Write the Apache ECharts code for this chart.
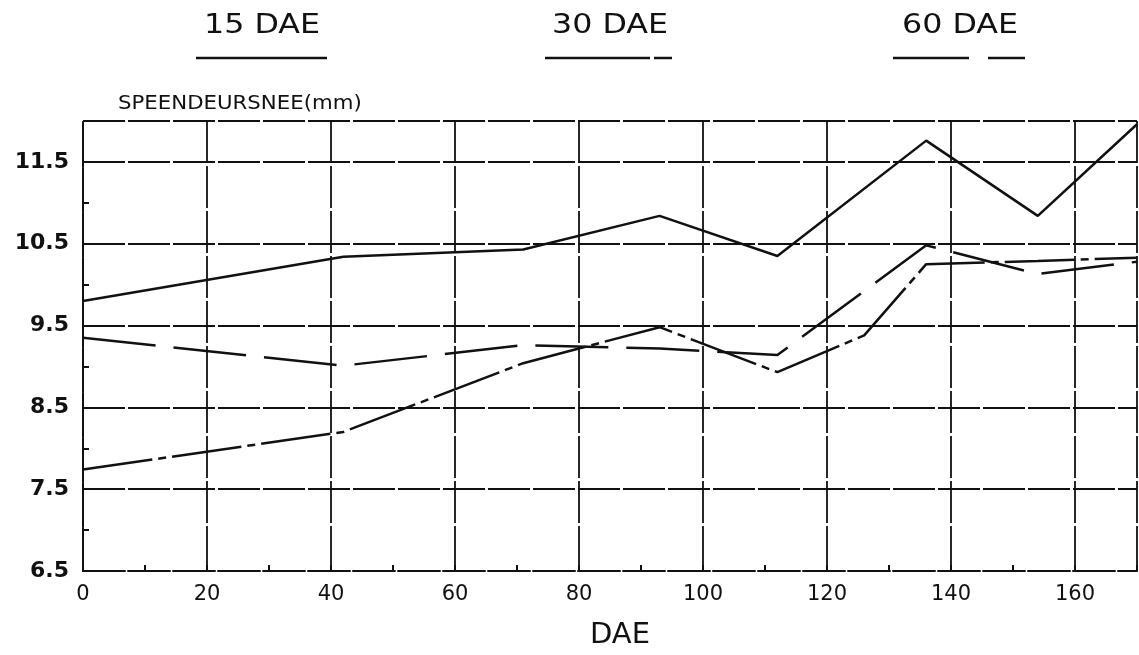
<!DOCTYPE html>
<html>
<head>
<meta charset="utf-8">
<script src="https://cdn.jsdelivr.net/npm/echarts@6/dist/echarts.min.js"></script>
<style>
html,body{margin:0;padding:0;background:#fff;}
#chart{width:1139px;height:655px;}
</style>
</head>
<body>
<div id="chart"></div>
<script>
// ---- data ----
var xTickLabels = ['0','20','40','60','80','100','120','140','160'];
var yTickLabels = ['6.5','7.5','8.5','9.5','10.5','11.5'];

var seriesNames = ['15 DAE', '30 DAE', '60 DAE'];

var days15  = [0, 42, 71, 93, 112, 136, 154, 170];
var speen15 = [9.80, 10.34, 10.43, 10.84, 10.35, 11.76, 10.84, 11.96];

var days30  = [0, 42, 71, 93, 112, 126, 136, 154, 170];
var speen30 = [7.74, 8.20, 9.04, 9.48, 8.93, 9.38, 10.25, 10.29, 10.33];

var days60  = [0, 42, 71, 93, 112, 136, 154, 170];
var speen60 = [9.35, 9.01, 9.26, 9.22, 9.14, 10.48, 10.13, 10.28];

function pairs(xs, ys){ return xs.map(function(x,i){ return [x, ys[i]]; }); }

var FONT = 'DejaVu Sans';
var INK = '#111';
var gridDash = [42, 3];
var dashes = {
  '15 DAE': 'solid',
  '30 DAE': [70, 6, 8, 6],
  '60 DAE': [73, 18]
};

var chart = echarts.init(document.getElementById('chart'), null, {renderer:'canvas'});

function legendItem(name, cx, x1, x2, dash){
  return [
    {type:'text', x:cx, y:26, scaleX:1.22,
     style:{text:name, fill:INK, font:'normal 26px "'+FONT+'"', textAlign:'center', textVerticalAlign:'middle'}},
    {type:'line', shape:{x1:x1, y1:58, x2:x2, y2:58},
     style:{stroke:INK, lineWidth:2.5, lineDash: dash}}
  ];
}

var graphics = []
  .concat(legendItem(seriesNames[0], 262, 196, 327, null))
  .concat(legendItem(seriesNames[1], 610, 545, 672, [105, 4, 20]))
  .concat(legendItem(seriesNames[2], 960, 893, 1025, [76, 19]));
graphics.push({type:'text', x:118, y:104, scaleX:1.12,
  style:{text:'SPEENDEURSNEE(mm)', fill:INK, font:'normal 19px "'+FONT+'"', textAlign:'left', textVerticalAlign:'middle'}});

var option = {
  backgroundColor:'#fff',
  animation:false,
  grid:{left:83, right:2, top:121, bottom:80, containLabel:false},
  xAxis:{
    type:'value', min:0, max:170, interval:20,
    name:'DAE', nameLocation:'middle', nameGap:50,
    nameTextStyle:{fontFamily:FONT, fontSize:29, color:INK, padding:[0,0,0,20]},
    axisLine:{show:true, onZero:false, lineStyle:{color:INK, width:2, type:gridDash}},
    axisTick:{show:true, inside:true, length:6, lineStyle:{color:INK, width:2}},
    minorTick:{show:true, splitNumber:2, length:6, lineStyle:{color:INK, width:2}},
    axisLabel:{fontFamily:FONT, fontSize:21, color:INK, margin:13, showMaxLabel:false,
      formatter:function(v){ var s=String(v); return xTickLabels.indexOf(s)>=0 ? s : ''; }},
    splitLine:{show:true, lineStyle:{color:INK, width:1.8, type:gridDash}}
  },
  yAxis:{
    type:'value', min:6.5, max:12, interval:1,
    axisLine:{show:true, onZero:false, lineStyle:{color:INK, width:2, type:gridDash}},
    axisTick:{show:true, inside:true, length:6, lineStyle:{color:INK, width:2}},
    minorTick:{show:true, splitNumber:2, length:6, lineStyle:{color:INK, width:2}},
    axisLabel:{fontFamily:FONT, fontSize:22, fontWeight:'bold', color:INK, margin:14, showMaxLabel:false,
      formatter:function(v){ var s=v.toFixed(1); return yTickLabels.indexOf(s)>=0 ? s : ''; }},
    splitLine:{show:true, lineStyle:{color:INK, width:1.8, type:gridDash}}
  },
  series:[
    {name:seriesNames[0], type:'line', data:pairs(days15, speen15), showSymbol:false, clip:true,
     lineStyle:{color:INK, width:2.5, type:dashes['15 DAE']}},
    {name:seriesNames[1], type:'line', data:pairs(days30, speen30), showSymbol:false, clip:true,
     lineStyle:{color:INK, width:2.5, type:dashes['30 DAE']}},
    {name:seriesNames[2], type:'line', data:pairs(days60, speen60), showSymbol:false, clip:true,
     lineStyle:{color:INK, width:2.5, type:dashes['60 DAE']}}
  ],
  graphic:graphics
};
chart.setOption(option);
</script>
</body>
</html>
